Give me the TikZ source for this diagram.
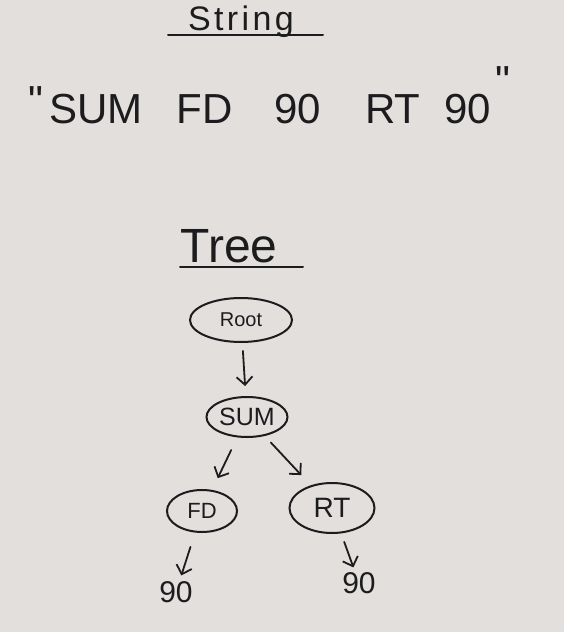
\documentclass[tikz,border=0pt]{standalone}
\usepackage{fontspec}
\setmainfont{Liberation Sans}
\newfontfamily\qfont{Liberation Sans}
\usetikzlibrary{shapes.geometric,arrows.meta}
\definecolor{paper}{RGB}{226,223,221}
\definecolor{ink}{RGB}{28,28,30}
\begin{document}
\begin{tikzpicture}[x=1pt,y=-1pt,
  oval/.style={draw=ink, ellipse, line width=2pt, inner sep=0pt, text=ink},
  leaf/.style={text=ink, inner sep=1pt, font=\fontsize{30}{32}\selectfont},
  heading/.style={text=ink, inner sep=0pt, anchor=base},
  rule/.style={draw=ink, line width=2pt, line cap=round},
  link/.style={draw=ink, line width=1.8pt, line cap=round,
    -{Straight Barb[length=8pt,width=16pt,line width=1.8pt]}}]
\fill[paper] (0,0) rectangle (564,632);
\useasboundingbox (0,0) rectangle (564,632);

% String section
\node[heading, font=\fontsize{34}{36}\selectfont\addfontfeature{LetterSpace=10}] (title) at (241,30) {String};
\draw[rule] (168,35) -- (323,35);
\node[heading, anchor=base west, font=\fontsize{42}{46}\selectfont] (str) at (28,123)
  {\raisebox{8pt}{\qfont"}\hspace{6pt}SUM\hspace{34pt}FD\hspace{42pt}90\hspace{44pt}RT\hspace{24pt}90\hspace{4pt}\raisebox{28pt}{\qfont"}};

% Tree section
\node[heading, font=\fontsize{48}{50}\selectfont] (tree) at (229,262) {Tree};
\draw[rule] (180,267) -- (303,267);

\node[oval, minimum width=102pt, minimum height=44pt, font=\fontsize{20}{22}\selectfont] (root) at (241,320) {Root};
\node[oval, minimum width=81pt, minimum height=40pt, font=\fontsize{25}{27}\selectfont] (sum) at (247,417) {SUM};
\node[oval, minimum width=70pt, minimum height=42pt, font=\fontsize{22}{24}\selectfont] (fd) at (202,511) {FD};
\node[oval, minimum width=85pt, minimum height=50pt, font=\fontsize{28}{30}\selectfont] (rt) at (332,508) {RT};
\node[leaf] (n1) at (176,592) {90};
\node[leaf] (n2) at (359,583) {90};

\draw[link, shorten <=8pt, shorten >=10pt] (root) -- (sum);
\draw[link, shorten <=14pt, shorten >=13pt] (sum) -- (fd);
\draw[link, shorten <=9pt, shorten >=14pt] (sum) -- (rt);
\draw[link, shorten <=15pt, shorten >=5pt] (fd) -- (n1);
\draw[link, shorten <=9pt, shorten >=4pt] (rt) -- (n2);
\end{tikzpicture}
\end{document}
